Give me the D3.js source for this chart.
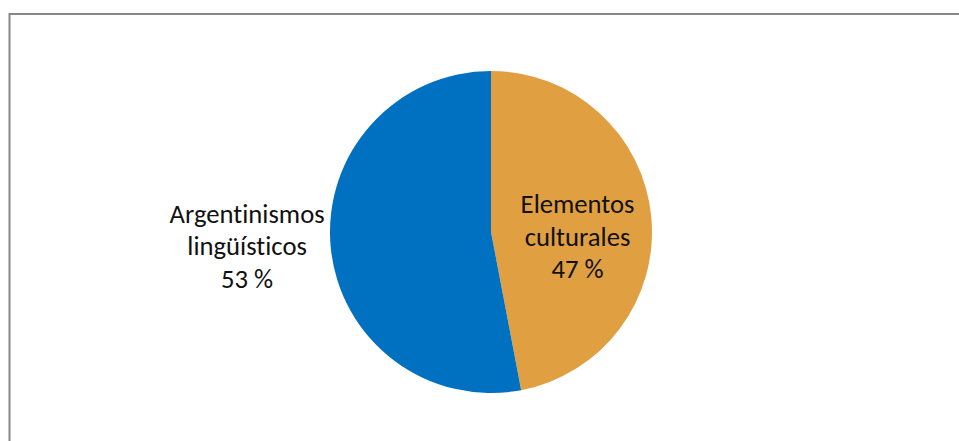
<!DOCTYPE html>
<html>
<head>
<meta charset="utf-8">
<script src="https://cdn.jsdelivr.net/npm/d3@7"></script>
<style>
  html, body { margin: 0; padding: 0; background: #fff; }
  svg { display: block; }
  .lbl { font-family: Carlito, Calibri, Lato, "Open Sans", sans-serif; font-size: 26.67px; fill: #111; font-variant-ligatures: none; }
</style>
</head>
<body>
<svg id="chart" width="959" height="441"></svg>
<script>
// Share of items by type
const categories = ["Elementos culturales", "Argentinismos lingüísticos"];
const labelLines = [["Elementos", "culturales"], ["Argentinismos", "lingüísticos"]];
const values = [47, 53];
const colors = ["#E0A042", "#0070C0"];

const svg = d3.select("#chart");
const W = 959, H = 441;

// chart frame (top and left edges visible in the window)
svg.append("rect")
  .attr("x", 9.5).attr("y", 14)
  .attr("width", W + 20).attr("height", H + 20)
  .attr("fill", "none").attr("stroke", "#878787").attr("stroke-width", 2);

const cx = 491, cy = 232, r = 161;
const data = categories.map((c, i) => ({ name: c, value: values[i], lines: labelLines[i], color: colors[i] }));

const pie = d3.pie().value(d => d.value).sort(null);
const arc = d3.arc().innerRadius(0).outerRadius(r);
const arcs = pie(data);

const g = svg.append("g").attr("transform", `translate(${cx},${cy})`);
g.selectAll("path.slice").data(arcs).enter().append("path")
  .attr("class", "slice")
  .attr("d", arc)
  .attr("fill", d => d.data.color);

// label anchors: first slice inside, second slice outside on the left
const insideArc = d3.arc().innerRadius(r * 0.54).outerRadius(r * 0.54);
const lineH = 32.5;
arcs.forEach((a, i) => {
  let x, y;
  if (i === 0) {
    const c = insideArc.centroid(a);
    x = c[0]; y = c[1] + 22;
  } else {
    const mid = (a.startAngle + a.endAngle) / 2;
    const rr = r + 84;
    x = Math.sin(mid) * rr;
    y = -Math.cos(mid) * rr;
  }
  const lines = a.data.lines.concat([d3.format("d")(a.data.value) + " %"]);
  const t = g.append("text").attr("class", "lbl").attr("text-anchor", "middle");
  lines.forEach((s, k) => {
    t.append("tspan").attr("x", x).attr("y", y + (k - 1) * lineH).text(s);
  });
});
</script>
</body>
</html>
